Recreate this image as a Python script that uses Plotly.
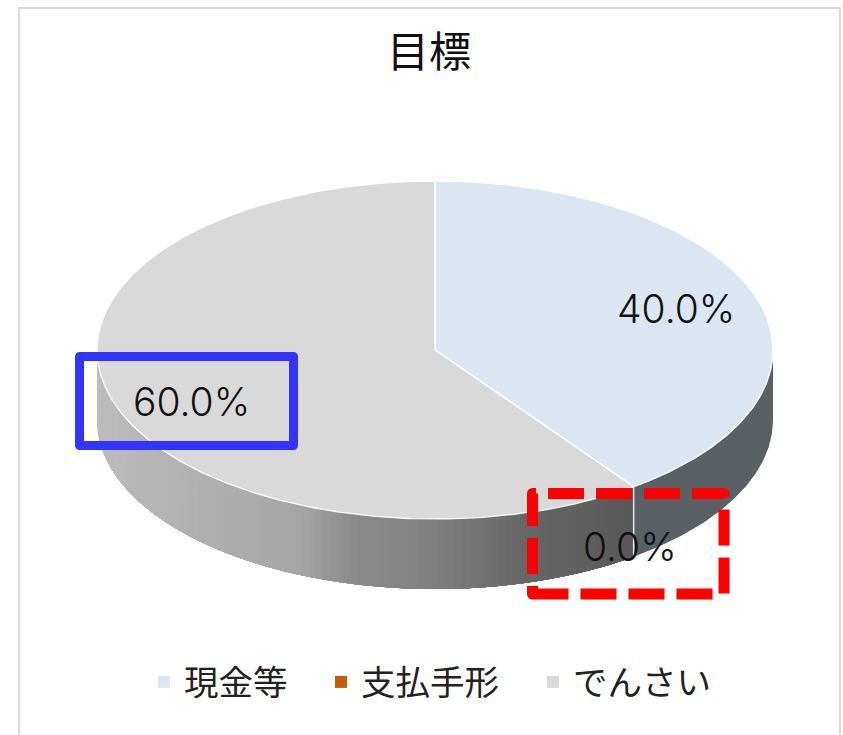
import math
import plotly.graph_objects as go

categories = ["現金等", "支払手形", "でんさい"]
values = [40.0, 0.0, 60.0]
slice_colors = ["#dce6f2", "#c55a11", "#d9d9d9"]
title_text = "目標"

W, H = 843, 735
CX, CY, RX, RY, DEPTH = 435, 350, 338, 169, 70
JP = "Noto Sans CJK JP"
LABEL_FONT = "Inter"


def pt(deg, dy=0.0):
    a = math.radians(deg)
    return CX + RX * math.sin(a), CY - RY * math.cos(a) + dy


GRAD = [(97, 188), (200, 176), (300, 166), (350, 140), (430, 128), (520, 104), (633, 88)]


def gray(x):
    for (x0, g0), (x1, g1) in zip(GRAD, GRAD[1:]):
        if x <= x1:
            g = g0 + (g1 - g0) * (x - x0) / (x1 - x0)
            return f"rgb({g:.0f},{g:.0f},{g:.0f})"
    return f"rgb({GRAD[-1][1]},{GRAD[-1][1]},{GRAD[-1][1]})"


def wall(a0, a1, color):
    n = max(2, int((a1 - a0) / 0.5))
    arc = [a0 + (a1 - a0) * k / n for k in range(n + 1)]
    top = [pt(a) for a in arc]
    bot = [pt(a, DEPTH) for a in reversed(arc)]
    pts = top + bot
    fig.add_trace(go.Scatter(
        x=[p[0] for p in pts], y=[p[1] for p in pts], mode="lines",
        fill="toself", fillcolor=color, line=dict(width=0),
        showlegend=False, hoverinfo="skip"))


fig = go.Figure()

total = sum(values)
angles = [0.0]
for v in values:
    angles.append(angles[-1] + 360.0 * v / total)

# side wall, visible between 90 and 270 degrees clockwise from the top
for i, v in enumerate(values):
    a0, a1 = max(angles[i], 90.0), min(angles[i + 1], 270.0)
    if a1 <= a0:
        continue
    if i == 0:
        wall(a0, a1, "#5b6064")
        continue
    # gradient: strips painted from the left end, each overlapping the next
    n = 100
    for k in range(n):
        s1 = a1 - (a1 - a0) * k / n
        s0 = a1 - (a1 - a0) * (k + 1) / n
        wall(a0, s1, gray(pt((s0 + s1) / 2)[0]))

# white seam between slices on the wall
seam = [pt(angles[1]), pt(angles[1], DEPTH)]
fig.add_trace(go.Scatter(x=[p[0] for p in seam], y=[p[1] for p in seam], mode="lines",
                         line=dict(color="#e8e8e8", width=1.5), showlegend=False, hoverinfo="skip"))

# top faces
for i, v in enumerate(values):
    a0, a1 = angles[i], angles[i + 1]
    n = max(1, int((a1 - a0) / 0.5))
    arc = [pt(a0 + (a1 - a0) * k / n) for k in range(n + 1)]
    xs = [CX] + [p[0] for p in arc] + [CX]
    ys = [CY] + [p[1] for p in arc] + [CY]
    fig.add_trace(go.Scatter(x=xs, y=ys, mode="lines", fill="toself",
                             fillcolor=slice_colors[i], line=dict(color="white", width=1.3),
                             showlegend=False, name=categories[i], hoverinfo="skip"))

# legend entries, one legend per entry so each can sit where the reference has it
legend_ids = ["legend", "legend2", "legend3"]
for name, c, lid in zip(categories, slice_colors, legend_ids):
    fig.add_trace(go.Scatter(x=[None], y=[None], mode="markers", name=name, legend=lid,
                             marker=dict(symbol="square", size=12, color=c)))


def label(v, x, y):
    fig.add_annotation(x=x, y=y, text=f"{v:.1f}%", showarrow=False, xref="x", yref="y",
                       font=dict(family=LABEL_FONT, size=39, color="#111111", weight=300))


label(values[0], 676, 308)
label(values[1], 630, 546)
label(values[2], 191, 401)


def legend_at(px):
    return dict(orientation="h", x=px / W, xanchor="left", y=1 - 682 / H, yanchor="middle",
                font=dict(family=JP, size=34.5, color="#222222"), itemwidth=30,
                bgcolor="rgba(0,0,0,0)", itemclick=False, itemdoubleclick=False)


fig.update_layout(
    width=W, height=H, margin=dict(l=0, r=0, t=0, b=0, pad=0),
    paper_bgcolor="white", plot_bgcolor="white",
    xaxis=dict(range=[0, W], visible=False, fixedrange=True),
    yaxis=dict(range=[H, 0], visible=False, fixedrange=True),
    title=dict(text=title_text, x=429 / W, xanchor="center", y=1 - 52 / H, yanchor="middle",
               font=dict(family=JP, size=42, color="#111111")),
    font=dict(family=JP),
    legend=legend_at(144),
    legend2=legend_at(321),
    legend3=legend_at(533),
    shapes=[
        dict(type="rect", xref="x", yref="y", x0=19, x1=840, y0=8, y1=760,
             line=dict(color="#d9d9d9", width=2), layer="below"),
        dict(type="rect", xref="x", yref="y", x0=79.5, x1=293.5, y0=356.5, y1=445.5,
             line=dict(color="#3333ff", width=9), layer="above"),
        dict(type="rect", xref="x", yref="y", x0=532.5, x1=724, y0=594, y1=493.5,
             line=dict(color="#ff0000", width=11, dash="36px,12px"), layer="above"),
    ],
)

fig.write_html(
    "out.html",
    config={"displayModeBar": False},
    post_script="document.body.style.margin='0';"
                "document.head.insertAdjacentHTML('beforeend',"
                "'<style>.shapelayer path{stroke-linejoin:round}</style>');",
)
